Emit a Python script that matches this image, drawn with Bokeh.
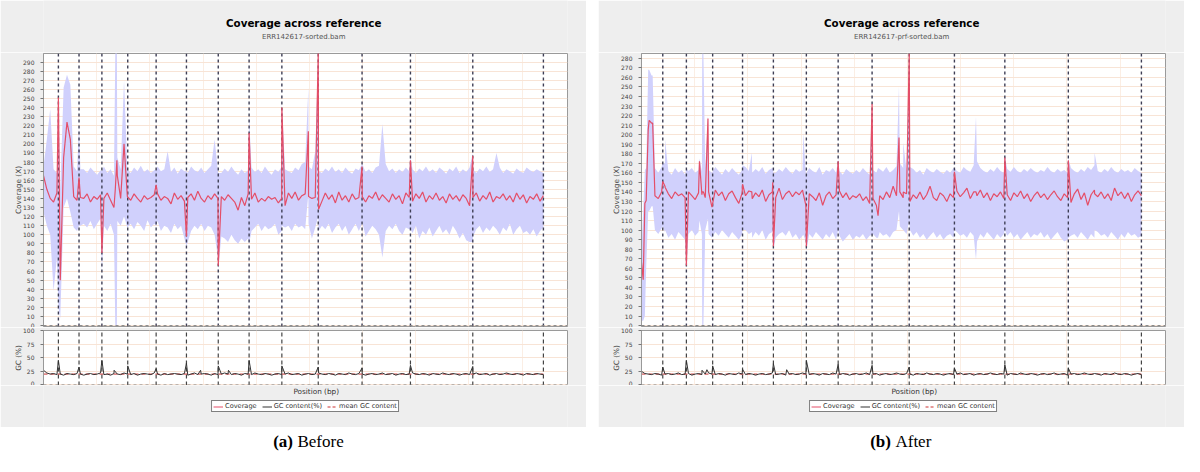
import numpy as np
from bokeh.plotting import figure
from bokeh.models import Range1d, SingleIntervalTicker, FixedTicker, Legend, LegendItem, Spacer, Span
from bokeh.layouts import row, column
from bokeh.embed import file_html
from bokeh.resources import INLINE
from bokeh.core.properties import value

# ---------------- data (positions in kb) ----------------
GENOME_KB = 4700

# Before (ERR142617-sorted.bam)
A_BOUNDS = [140, 334, 549, 792, 1059, 1344, 1643, 1933, 2241, 2583, 2995, 3450, 4036, 4700]
A_COV = [165,150,140,136,146,50,185,224,205,142,
         138,141,140,145,136,142,139,144,140,146,
         138,130,165,140,200,142,138,145,140,136,
         143,139,141,144,145,138,142,140,134,146,
         139,143,137,141,145,138,148,140,136,143,
         139,145,140,142,138,144,140,136,127,141,
         132,145,139,146,136,140,137,142,139,141,
         135,140,132,146,140,147,138,143,145,142,
         140,141,128,137,146,139,144,135,147,138,
         143,136,145,139,141,142,136,143,140,147,
         138,144,140,136,145,139,143,134,146,141,
         137,145,140,147,136,143,139,146,138,142,
         135,145,139,143,137,144,140,132,141,146,
         137,143,139,147,136,142,140,145,138,143,
         136,146,139,144,135,142,139,145,137,143]
A_HI = [175,205,238,172,168,150,262,276,265,175,
        170,172,172,168,174,170,166,171,175,168,
        172,165,185,172,270,172,168,174,170,176,
        169,172,168,171,175,170,172,192,169,174,
        167,173,170,168,175,171,169,174,168,172,
        176,205,170,168,173,169,175,170,166,172,
        168,171,174,169,172,168,175,170,166,172,
        169,175,172,170,168,174,171,178,180,175,
        172,192,170,168,173,170,175,169,172,168,
        174,170,167,173,171,178,169,172,168,174,
        176,222,178,170,173,168,172,169,174,170,
        172,168,173,170,175,169,172,168,174,171,
        167,173,170,175,168,172,169,174,172,168,
        173,170,175,169,172,190,174,168,172,170,
        167,173,170,168,174,171,169,172,170,168]
A_LO = [125,110,100,38,75,8,130,140,125,108,
        104,110,112,108,115,106,112,118,110,104,
        112,100,115,110,120,108,112,106,114,110,
        104,116,108,112,115,104,110,108,102,112,
        106,110,96,92,104,110,106,112,104,110,
        108,100,75,98,96,92,100,94,90,96,
        92,96,104,108,112,104,110,106,108,112,
        100,104,108,110,104,112,108,110,106,112,
        96,108,104,110,106,112,102,108,112,104,
        110,100,106,112,104,114,98,104,110,106,
        100,75,104,110,106,112,104,100,108,106,
        102,110,96,104,100,108,98,104,110,102,
        106,100,110,104,96,102,94,92,98,106,
        110,102,108,104,110,106,100,108,104,112,
        100,106,110,102,104,100,106,98,104,108]
A_SPIKE_X = [140, 334, 549, 675, 690, 1059, 1344, 1643, 1933, 2241, 2490, 2583, 2995, 3450, 4036]
A_SPIKE_COV = [251, 163, 80, 150, 182, 155, 98, 66, 212, 240, 214, 300, 175, 182, 187]
A_SPIKE_HI = [252, 220, 170, 300, 300, 172, 170, 168, 230, 245, 262, 300, 178, 185, 190]
A_SPIKE_LO = [20, 110, 59, 0, 0, 110, 88, 62, 90, 110, 145, 120, 112, 106, 92]
A_GC = [27,22,20,21,19,20,18,21,20,19,
        21,20,18,20,21,19,20,22,19,20,
        18,21,20,19,22,20,19,21,18,20,
        21,20,19,22,20,18,21,19,20,21,
        20,19,21,18,20,22,19,20,21,20,
        18,21,19,20,22,20,19,21,20,18,
        21,20,19,22,20,19,21,20,18,20,
        21,19,20,22,19,20,21,18,20,21,
        19,20,22,20,19,21,20,18,21,20,
        19,22,20,19,21,20,18,20,21,19,
        20,22,19,20,21,18,20,21,19,20,
        22,20,19,21,20,18,21,20,19,22,
        20,19,21,20,18,20,21,19,20,22,
        19,20,21,18,20,21,19,20,22,20,
        19,21,20,18,21,20,19,21,20,19]
A_GC_SPIKE_X = [140, 334, 549, 664, 792, 1059, 1344, 1477, 1643, 1739, 1933, 2241, 2583, 2995, 3450, 4036]
A_GC_SPIKE_Y = [45, 33, 45, 27, 35, 30, 40, 27, 35, 27, 45, 35, 33, 31, 36, 34]
A_GC_MEAN = 20

# After (ERR142617-prf-sorted.bam)
B_BOUNDS = [200, 422, 669, 950, 1240, 1550, 1849, 2168, 2517, 2942, 3416, 4013, 4700]
B_COV = [66,128,205,212,136,133,140,146,138,133,
         140,136,138,134,140,136,132,139,137,134,
         140,124,142,136,140,131,138,141,134,128,
         139,136,141,133,139,135,142,130,137,140,
         134,144,132,138,141,135,140,137,142,126,
         138,135,131,139,126,136,140,133,137,141,
         134,139,132,136,134,138,131,135,128,133,
         126,136,132,140,134,146,136,140,134,138,
         130,137,133,140,132,137,146,134,131,139,
         136,130,138,134,141,135,139,144,133,140,
         136,142,134,139,131,138,135,140,133,137,
         131,139,135,141,133,138,130,136,140,134,
         138,132,137,141,135,131,138,134,129,138,
         143,132,139,126,137,142,135,140,133,138,
         131,144,136,140,133,139,130,137,141,136]
B_HI = [80,163,268,262,165,160,166,170,162,158,
        165,160,163,158,162,165,160,163,161,165,
        163,160,166,162,158,164,160,165,161,158,
        163,166,162,160,164,161,166,159,163,165,
        160,164,161,166,162,159,164,161,163,158,
        165,162,160,166,158,163,161,165,160,162,
        158,164,161,159,163,160,165,161,158,163,
        160,164,161,166,160,163,167,170,165,162,
        166,164,160,163,158,165,162,160,164,161,
        159,163,160,165,162,160,166,163,161,168,
        172,165,162,160,164,161,166,162,160,164,
        161,166,162,160,164,161,165,162,160,163,
        161,166,162,160,164,161,163,160,165,162,
        160,164,161,166,163,168,162,160,164,161,
        166,162,160,164,161,163,160,165,162,160]
B_LO = [5,10,120,125,100,96,102,98,92,96,
        90,98,94,90,96,100,94,98,96,100,
        96,92,98,94,100,96,92,98,94,90,
        96,100,96,92,98,94,100,90,96,98,
        92,96,98,94,100,92,96,90,94,88,
        96,92,98,94,90,96,92,98,90,94,
        88,92,96,90,94,92,96,90,94,96,
        92,98,94,96,92,98,100,104,100,96,
        100,94,98,92,96,90,94,98,92,96,
        90,94,96,92,98,94,96,92,98,94,
        88,96,92,98,94,90,96,92,96,94,
        98,92,96,90,94,98,92,96,94,98,
        92,96,90,94,98,92,88,90,94,96,
        92,98,94,90,96,92,98,94,96,92,
        98,94,90,96,92,98,94,96,92,94]
B_SPIKE_X = [16, 44, 72, 105, 200, 222, 422, 545, 571, 582, 625, 950, 1037, 1234, 1240,
             1521, 1550, 1849, 2168, 2224, 2421, 2461, 2517, 2942, 3145, 3416, 4013, 4260]
B_SPIKE_COV = [48, 131, 215, 212, 151, 145, 63, 172, 140, 140, 217, 148, 140, 150, 83,
               138, 83, 172, 232, 115, 197, 140, 285, 161, 140, 176, 173, 138]
B_SPIKE_HI = [120, 165, 268, 262, 170, 195, 165, 175, 285, 285, 220, 168, 181, 165, 160,
              202, 160, 175, 235, 165, 251, 192, 285, 165, 219, 178, 175, 181]
B_SPIKE_LO = [5, 60, 120, 125, 104, 100, 60, 110, 0, 0, 112, 100, 98, 100, 80,
              95, 78, 100, 95, 92, 120, 100, 110, 100, 69, 100, 92, 100]
B_GC = [25,21,20,19,21,20,18,20,21,19,
        20,22,19,20,21,18,20,21,19,20,
        22,20,19,21,20,18,21,20,19,22,
        20,19,21,20,18,20,21,19,20,22,
        19,20,21,18,20,21,19,20,22,20,
        19,21,20,18,21,20,19,22,20,19,
        21,20,18,20,21,19,20,22,19,20,
        21,18,20,21,19,20,22,20,19,21,
        20,18,21,20,19,22,20,19,21,20,
        18,20,21,19,20,22,19,20,21,18,
        20,21,19,20,22,20,19,21,20,18,
        21,20,19,22,20,19,21,20,18,20,
        21,19,20,22,19,20,21,18,20,21,
        19,20,22,20,19,21,20,18,21,20,
        19,22,20,19,21,20,18,20,21,19]
B_GC_SPIKE_X = [200, 422, 569, 615, 669, 950, 1240, 1365, 1550, 1849, 2168, 2517, 2942, 3416, 4013]
B_GC_SPIKE_Y = [33, 45, 27, 28, 35, 29, 39, 28, 45, 38, 36, 33, 31, 37, 31]
B_GC_MEAN = 20

TITLE = "Coverage across reference"
LEGEND_LABELS = ["Coverage", "GC content(%)", "mean GC content"]

# ---------------- styling ----------------
PANEL_BG = "#eeeeee"
RED = "#e44e68"
BAND = "#d0d0fc"
GRID = "#f8e4d6"
XGRID = "#fbeee4"
BOUND = "#3e3e55"
AXIS_TXT = "#444444"
FONT = "DejaVu Sans"
FL, FR = 43, 19          # frame borders inside a panel
PANEL_W, GAP = 586, 12   # 586 + 12 + 586 + 2*8 page margin = 1200
HEAD_H, COV_H, GC_H, FOOT_H, CAP_H = 52, 275, 58, 42, 29   # 456 + 2*8 = 472


def merge(base_cols, feat_x, feat_cols):
    n = len(base_cols[0])
    bx = np.linspace(0, GENOME_KB, n)
    x = np.concatenate([bx, np.asarray(feat_x, dtype=float)])
    order = np.argsort(x, kind="stable")
    cols = [np.concatenate([np.asarray(b, dtype=float), np.asarray(f, dtype=float)])[order]
            for b, f in zip(base_cols, feat_cols)]
    return x[order], cols


def style_yaxis(ax, label):
    ax.axis_label = label
    ax.axis_label_text_font = FONT
    ax.axis_label_text_font_size = "7.3px"
    ax.axis_label_text_font_style = "normal"
    ax.axis_label_text_color = AXIS_TXT
    ax.axis_label_standoff = -3
    ax.major_label_text_font = FONT
    ax.major_label_text_font_size = "6px"
    ax.major_label_text_color = AXIS_TXT
    ax.major_label_standoff = 6
    ax.major_tick_out = 3
    ax.major_tick_in = 0
    ax.minor_tick_out = 0
    ax.minor_tick_in = 0
    ax.axis_line_color = "#999999"
    ax.major_tick_line_color = "#777777"


def blank(width, height, bg):
    f = figure(width=width, height=height, x_range=Range1d(0, width), y_range=Range1d(0, height),
               output_backend="svg", toolbar_location=None, title=None, min_border=0,
               outline_line_color=None, background_fill_color=bg, border_fill_color=bg)
    f.axis.visible = False
    f.grid.visible = False
    return f


def make_panel(width, subtitle, cap_tag, cap_word, ymax, bounds,
               cov, hi, lo, sx, scov, shi, slo, gc, gsx, gsy, gc_mean):
    xmax = GENOME_KB * 1.0482
    x, (c, h, l) = merge([cov, hi, lo], sx, [scov, shi, slo])
    mid = width / 2.0 - 2
    fmid = (FL + width - FR) / 2.0

    # header with title and subtitle
    head = blank(width, HEAD_H, PANEL_BG)
    head.text(x=[mid], y=[HEAD_H - 22], text=[TITLE], text_align="center", text_baseline="middle",
              text_font=value(FONT), text_font_size="10.3px", text_font_style="bold",
              text_color="black")
    head.text(x=[mid], y=[HEAD_H - 36], text=[subtitle], text_align="center",
              text_baseline="middle", text_font=value(FONT), text_font_size="7px",
              text_color="#555555")

    # coverage plot
    p = figure(width=width, height=COV_H, x_range=Range1d(0, xmax), y_range=Range1d(-1, ymax),
               output_backend="svg", toolbar_location=None, title=None,
               min_border_left=FL, min_border_right=FR, min_border_top=1, min_border_bottom=1,
               background_fill_color="white", border_fill_color=PANEL_BG,
               outline_line_color="#9a9a9a")
    p.xaxis.visible = False
    p.xaxis.ticker = SingleIntervalTicker(interval=500, num_minor_ticks=0)
    p.xgrid.ticker = SingleIntervalTicker(interval=500, num_minor_ticks=0)
    p.yaxis.ticker = SingleIntervalTicker(interval=10, num_minor_ticks=0)
    p.ygrid.ticker = SingleIntervalTicker(interval=10, num_minor_ticks=0)
    p.ygrid.grid_line_color = GRID
    p.xgrid.grid_line_color = XGRID
    style_yaxis(p.yaxis[0], "Coverage (X)")

    p.varea(x=x, y1=l, y2=h, fill_color=BAND, fill_alpha=1.0)
    p.add_layout(Span(location=0, dimension="width", line_color="#888888",
                      line_dash="3 3", line_width=1))
    p.segment(x0=bounds, y0=[-1] * len(bounds), x1=bounds, y1=[ymax] * len(bounds),
              line_color=BOUND, line_dash="3 3", line_width=1.4)
    p.line(x=x, y=c, line_color=RED, line_width=1.2)

    # GC content subplot
    gx, (gy,) = merge([gc], gsx, [gsy])
    g = figure(width=width, height=GC_H, x_range=p.x_range, y_range=Range1d(-1, 100),
               output_backend="svg", toolbar_location=None, title=None,
               min_border_left=FL, min_border_right=FR, min_border_top=3, min_border_bottom=0,
               background_fill_color="white", border_fill_color=PANEL_BG,
               outline_line_color="#9a9a9a")
    g.xaxis.visible = False
    g.xgrid.ticker = SingleIntervalTicker(interval=500, num_minor_ticks=0)
    g.yaxis.ticker = FixedTicker(ticks=[0, 25, 50, 75, 100])
    g.ygrid.ticker = FixedTicker(ticks=[0, 25, 50, 75, 100])
    g.ygrid.grid_line_color = GRID
    g.xgrid.grid_line_color = XGRID
    style_yaxis(g.yaxis[0], "GC (%)")
    g.add_layout(Span(location=0, dimension="width", line_color="#888888",
                      line_dash="3 3", line_width=1))
    g.segment(x0=bounds, y0=[-1] * len(bounds), x1=bounds, y1=[100] * len(bounds),
              line_color="#444444", line_dash="4 3", line_width=1.2)
    g.line(x=[0, GENOME_KB], y=[gc_mean, gc_mean], line_color="#cc3333",
           line_dash="4 3", line_width=1)
    g.line(x=gx, y=gy, line_color="#333333", line_width=1)

    # footer: axis title + legend (legend proxies sit below the visible range)
    foot = blank(width, FOOT_H, PANEL_BG)
    foot.text(x=[fmid], y=[FOOT_H - 6], text=["Position (bp)"], text_align="center",
              text_baseline="middle", text_font=value(FONT), text_font_size="7.3px",
              text_color="#333333")
    proxy_x, proxy_y = [0, 1], [-50, -50]
    r_cov = foot.line(x=proxy_x, y=proxy_y, line_color=RED, line_width=1)
    r_gc = foot.line(x=proxy_x, y=proxy_y, line_color="#333333", line_width=1)
    r_mean = foot.line(x=proxy_x, y=proxy_y, line_color="#cc3333", line_dash="3 2", line_width=1)
    leg = Legend(items=[LegendItem(label=LEGEND_LABELS[0], renderers=[r_cov]),
                        LegendItem(label=LEGEND_LABELS[1], renderers=[r_gc]),
                        LegendItem(label=LEGEND_LABELS[2], renderers=[r_mean])],
                 orientation="horizontal", location="center",
                 label_text_font=FONT, label_text_font_size="6.6px", label_text_color="#333333",
                 glyph_width=10, glyph_height=7, label_standoff=2, spacing=5,
                 padding=1, margin=0, label_height=7,
                 border_line_color="black", border_line_width=1,
                 background_fill_color="white", background_fill_alpha=1)
    foot.add_layout(leg, "center")

    # caption (centered vertically, well inside its own canvas)
    cap = blank(width, CAP_H, "white")
    cap.text(x=[279], y=[CAP_H / 2.0 + 1], text=[cap_tag], text_align="right",
             text_baseline="middle", text_font=value("Liberation Serif"),
             text_font_size="17px", text_font_style="bold", text_color="black")
    cap.text(x=[284], y=[CAP_H / 2.0 + 1], text=[cap_word], text_align="left",
             text_baseline="middle", text_font=value("Liberation Serif"),
             text_font_size="17px", text_font_style="normal", text_color="black")
    return column(head, p, g, foot, cap)


left = make_panel(PANEL_W, "ERR142617-sorted.bam", "(a)", "Before", 299.5, A_BOUNDS,
                  A_COV, A_HI, A_LO, A_SPIKE_X, A_SPIKE_COV, A_SPIKE_HI, A_SPIKE_LO,
                  A_GC, A_GC_SPIKE_X, A_GC_SPIKE_Y, A_GC_MEAN)
right = make_panel(PANEL_W, "ERR142617-prf-sorted.bam", "(b)", "After", 285, B_BOUNDS,
                   B_COV, B_HI, B_LO, B_SPIKE_X, B_SPIKE_COV, B_SPIKE_HI, B_SPIKE_LO,
                   B_GC, B_GC_SPIKE_X, B_GC_SPIKE_Y, B_GC_MEAN)

root = row(left, Spacer(width=GAP, height=10), right)
open("out.html", "w").write(file_html(root, INLINE))
